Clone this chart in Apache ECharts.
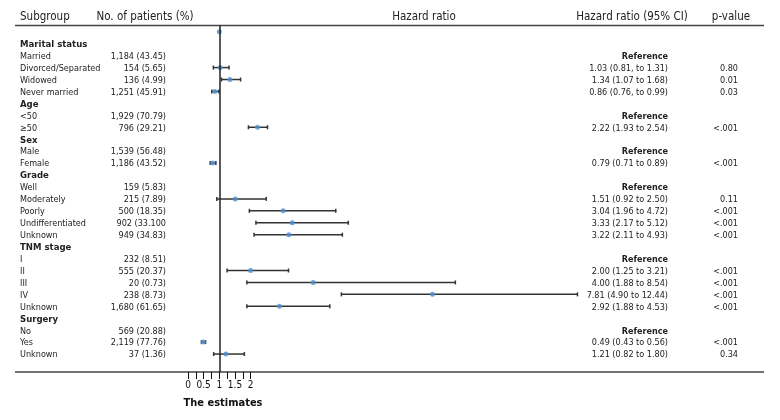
<!DOCTYPE html>
<html>
<head>
<meta charset="utf-8">
<script src="https://cdn.jsdelivr.net/npm/echarts@6/dist/echarts.min.js"></script>
<style>
  html, body { margin: 0; padding: 0; background: #fff; }
  #forest { width: 780px; height: 420px; }
</style>
</head>
<body>
<div id="forest"></div>
<script>
// rows, top to bottom (row 0 is the blank row holding the lone point)
const rowLabels = ['', 'Marital status', 'Married', 'Divorced/Separated', 'Widowed', 'Never married',
  'Age', '<50', '≥50', 'Sex', 'Male', 'Female',
  'Grade', 'Well', 'Moderately', 'Poorly', 'Undifferentiated', 'Unknown',
  'TNM stage', 'I', 'II', 'III', 'IV', 'Unknown',
  'Surgery', 'No', 'Yes', 'Unknown']
const groupRows = [1, 6, 9, 12, 18, 24]
const patients = ['', '', '1,184 (43.45)', '154 (5.65)', '136 (4.99)', '1,251 (45.91)',
  '', '1,929 (70.79)', '796 (29.21)', '', '1,539 (56.48)', '1,186 (43.52)',
  '', '159 (5.83)', '215 (7.89)', '500 (18.35)', '902 (33.100', '949 (34.83)',
  '', '232 (8.51)', '555 (20.37)', '20 (0.73)', '238 (8.73)', '1,680 (61.65)',
  '', '569 (20.88)', '2,119 (77.76)', '37 (1.36)']
const hrLabels = ['', '', 'Reference', '1.03 (0.81, to 1.31)', '1.34 (1.07 to 1.68)', '0.86 (0.76, to 0.99)',
  '', 'Reference', '2.22 (1.93 to 2.54)', '', 'Reference', '0.79 (0.71 to 0.89)',
  '', 'Reference', '1.51 (0.92 to 2.50)', '3.04 (1.96 to 4.72)', '3.33 (2.17 to 5.12)', '3.22 (2.11 to 4.93)',
  '', 'Reference', '2.00 (1.25 to 3.21)', '4.00 (1.88 to 8.54)', '7.81 (4.90 to 12.44)', '2.92 (1.88 to 4.53)',
  '', 'Reference', '0.49 (0.43 to 0.56)', '1.21 (0.82 to 1.80)']
const pValues = ['', '', '', '0.80', '0.01', '0.03',
  '', '', '<.001', '', '', '<.001',
  '', '', '0.11', '<.001', '<.001', '<.001',
  '', '', '<.001', '<.001', '<.001', '<.001',
  '', '', '<.001', '0.34']
// estimates (null = no mark)
const hr = [1, null, null, 1.03, 1.34, 0.86, null, null, 2.22, null, null, 0.79,
  null, null, 1.51, 3.04, 3.33, 3.22, null, null, 2.00, 4.00, 7.81, 2.92, null, null, 0.49, 1.21]
const lower = [null, null, null, 0.81, 1.07, 0.76, null, null, 1.93, null, null, 0.71,
  null, null, 0.92, 1.96, 2.17, 2.11, null, null, 1.25, 1.88, 4.90, 1.88, null, null, 0.43, 0.82]
const upper = [null, null, null, 1.31, 1.68, 0.99, null, null, 2.54, null, null, 0.89,
  null, null, 2.50, 4.72, 5.12, 4.93, null, null, 3.21, 8.54, 12.44, 4.53, null, null, 0.56, 1.80]
const tickValues = [0, 0.25, 0.5, 0.75, 1, 1.25, 1.5, 1.75, 2]
const tickLabels = [0, 0.5, 1, 1.5, 2]

const FONT = '"Liberation Sans Narrow", "DejaVu Sans Condensed", sans-serif'

let pointData = []
let barData = []
hr.forEach((v, i) => {
  if (v != null) pointData.push([v, i])
  if (lower[i] != null) barData.push([lower[i], upper[i], i])
})

let chartDom = document.getElementById('forest')
let myChart = echarts.init(chartDom)
let option = {
  animation: false,
  grid: { left: 188, right: 185, top: 25.5, bottom: 48 },
  xAxis: {
    type: 'value',
    position: 'bottom',
    min: 0,
    max: 13,
    splitLine: { show: false },
    axisLine: { show: false, onZero: false },
    axisTick: {
      show: true,
      customValues: tickValues,
      length: 7,
      lineStyle: { color: '#111', width: 1 },
    },
    axisLabel: {
      customValues: tickLabels,
      margin: 8,
      color: '#111',
      fontSize: 10,
      fontFamily: FONT,
    },
  },
  yAxis: {
    type: 'value',
    inverse: true,
    min: -0.61,
    max: 28.42,
    show: false,
  },
  series: [
    {
      type: 'custom',
      data: barData,
      renderItem: (params, api) => {
        const a = api.coord([api.value(0), api.value(2)])
        const b = api.coord([api.value(1), api.value(2)])
        const y = a[1] - 1
        const st = { stroke: '#333', lineWidth: 1.5 }
        return {
          type: 'group',
          children: [
            { type: 'line', shape: { x1: a[0], y1: y, x2: b[0], y2: y }, style: st },
            { type: 'line', shape: { x1: a[0], y1: y - 2, x2: a[0], y2: y + 2 }, style: st },
            { type: 'line', shape: { x1: b[0], y1: y - 2, x2: b[0], y2: y + 2 }, style: st },
          ],
        }
      },
      z: 2,
    },
    {
      type: 'scatter',
      data: pointData,
      symbol: 'circle',
      symbolSize: 5,
      symbolOffset: [0, -1],
      itemStyle: { color: '#4f8fcf' },
      z: 3,
      markLine: {
        silent: true,
        symbol: 'none',
        label: { show: false },
        lineStyle: { color: '#222', width: 1.5, type: 'solid' },
        data: [{ xAxis: 1 }],
      },
    },
  ],
}
myChart.setOption(option)

// table text placed on the same rows as the marks
let texts = []
const rowY = (i) => myChart.convertToPixel({ yAxisIndex: 0 }, i)
rowLabels.forEach((name, i) => {
  const y = rowY(i)
  const bold = groupRows.includes(i)
  texts.push({ type: 'text', x: 20, y: y, style: { text: name, fontFamily: FONT, fontSize: bold ? 9.5 : 9, fontWeight: bold ? 'bold' : 'normal', fill: '#222', verticalAlign: 'middle', align: 'left' } })
  texts.push({ type: 'text', x: 166, y: y, style: { text: patients[i], fontFamily: FONT, fontSize: 9, fill: '#222', verticalAlign: 'middle', align: 'right' } })
  const isRef = hrLabels[i] === 'Reference'
  texts.push({ type: 'text', x: 668, y: y, style: { text: hrLabels[i], fontFamily: FONT, fontSize: 9, fontWeight: isRef ? 'bold' : 'normal', fill: '#222', verticalAlign: 'middle', align: 'right' } })
  texts.push({ type: 'text', x: 738, y: y, style: { text: pValues[i], fontFamily: FONT, fontSize: 9, fill: '#222', verticalAlign: 'middle', align: 'right' } })
})
const header = (text, x, align) => ({ type: 'text', x: x, y: 17, style: { text: text, fontFamily: FONT, fontSize: 11.5, fill: '#222', verticalAlign: 'middle', align: align } })
texts.push(header('Subgroup', 20, 'left'))
texts.push(header('No. of patients (%)', 145, 'center'))
texts.push(header('Hazard ratio', 424, 'center'))
texts.push(header('Hazard ratio (95% CI)', 632, 'center'))
texts.push(header('p-value', 731, 'center'))
texts.push({ type: 'text', x: 223, y: 403, style: { text: 'The estimates', fontFamily: FONT, fontSize: 11, fontWeight: 'bold', fill: '#111', verticalAlign: 'middle', align: 'center' } })
texts.push({ type: 'line', shape: { x1: 15, y1: 25.5, x2: 764, y2: 25.5 }, style: { stroke: '#444', lineWidth: 1.5 } })
texts.push({ type: 'line', shape: { x1: 15, y1: 372, x2: 764, y2: 372 }, style: { stroke: '#444', lineWidth: 1.5 } })
myChart.setOption({ graphic: texts })

window.addEventListener('resize', () => {
  myChart.resize()
})
</script>
</body>
</html>
